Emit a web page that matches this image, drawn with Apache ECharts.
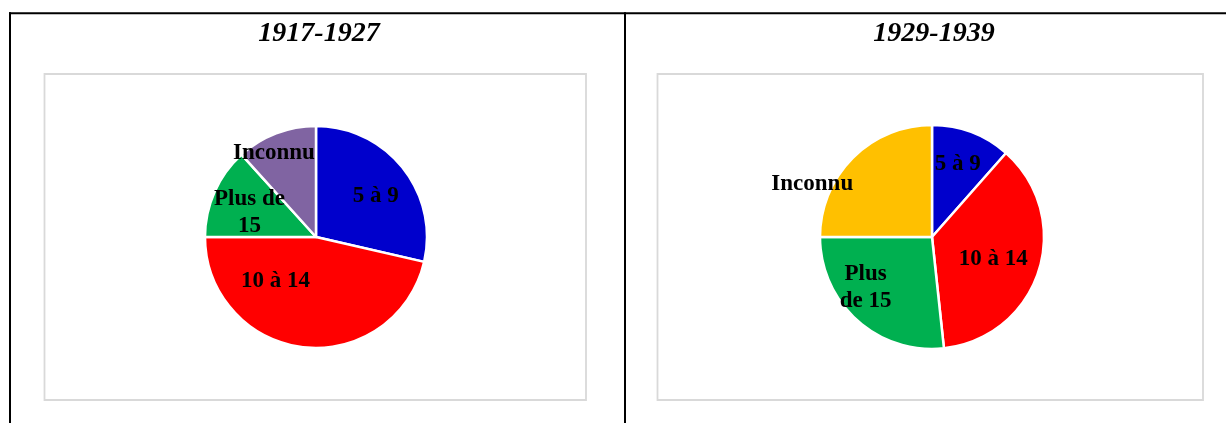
<!DOCTYPE html>
<html>
<head>
<meta charset="utf-8">
<script src="https://cdn.jsdelivr.net/npm/echarts@6/dist/echarts.min.js"></script>
<style>
html,body{margin:0;padding:0;background:#fff;}
#chart{width:1226px;height:423px;}
</style>
</head>
<body>
<div id="chart"></div>
<script>
// ---- data ----
const categories = ['5 à 9', '10 à 14', 'Plus de 15', 'Inconnu'];
const titles = ['1917-1927', '1929-1939'];
const values1917 = [28.6, 46.4, 13.3, 11.7];
const values1929 = [11.5, 36.8, 26.7, 25.0];
const labels1917 = ['5 à 9', '10 à 14', 'Plus de\n15', 'Inconnu'];
const labels1929 = ['5 à 9', '10 à 14', 'Plus\nde 15', 'Inconnu'];

// ---- styles ----
const colors1917 = ['#0000CC', '#FF0000', '#00B050', '#8064A2'];
const colors1929 = ['#0000CC', '#FF0000', '#00B050', '#FFC000'];
const offsets1917 = [[14, -5], [-34, -14], [-13, -1], [-21, -29]];
const offsets1929 = [[5, -18], [5, 4], [-27, 7], [-78, -11]];

function buildData(values, labels, colors, offsets) {
  return categories.map((name, i) => ({
    name: name,
    value: values[i],
    itemStyle: { color: colors[i] },
    label: { formatter: labels[i], offset: offsets[i] }
  }));
}

const serif = "'Liberation Serif', 'Times New Roman', serif";
const labelStyle = {
  show: true,
  position: 'inside',
  color: '#000',
  fontFamily: serif,
  fontWeight: 'bold',
  fontSize: 23,
  lineHeight: 27
};
const titleStyle = { fontFamily: serif, fontStyle: 'italic', fontWeight: 'bold', fontSize: 28, color: '#000' };

const chart = echarts.init(document.getElementById('chart'), null, { renderer: 'canvas' });
chart.setOption({
  animation: false,
  backgroundColor: '#fff',
  title: [
    { text: titles[0], left: 314, top: 15, textAlign: 'center', textStyle: titleStyle },
    { text: titles[1], left: 929, top: 15, textAlign: 'center', textStyle: titleStyle }
  ],
  graphic: [
    { type: 'rect', shape: { x: 44.5, y: 74, width: 541.5, height: 326 }, style: { fill: '#fff', stroke: '#d9d9d9', lineWidth: 1.8 }, z: -10 },
    { type: 'rect', shape: { x: 657.5, y: 74, width: 545.5, height: 326 }, style: { fill: '#fff', stroke: '#d9d9d9', lineWidth: 1.8 }, z: -10 },
    { type: 'line', shape: { x1: 9, y1: 13.3, x2: 1226, y2: 13.3 }, style: { stroke: '#000', lineWidth: 2 } },
    { type: 'line', shape: { x1: 10, y1: 12.3, x2: 10, y2: 423 }, style: { stroke: '#000', lineWidth: 2 } },
    { type: 'line', shape: { x1: 625, y1: 12.3, x2: 625, y2: 423 }, style: { stroke: '#000', lineWidth: 2 } }
  ],
  series: [
    {
      type: 'pie',
      center: [316, 237],
      radius: 111,
      startAngle: 90,
      clockwise: true,
      silent: true,
      label: labelStyle,
      labelLine: { show: false },
      itemStyle: { borderColor: '#fff', borderWidth: 2.5 },
      data: buildData(values1917, labels1917, colors1917, offsets1917)
    },
    {
      type: 'pie',
      center: [932, 237],
      radius: 112,
      startAngle: 90,
      clockwise: true,
      silent: true,
      label: labelStyle,
      labelLine: { show: false },
      itemStyle: { borderColor: '#fff', borderWidth: 2.5 },
      data: buildData(values1929, labels1929, colors1929, offsets1929)
    }
  ]
});
</script>
</body>
</html>
